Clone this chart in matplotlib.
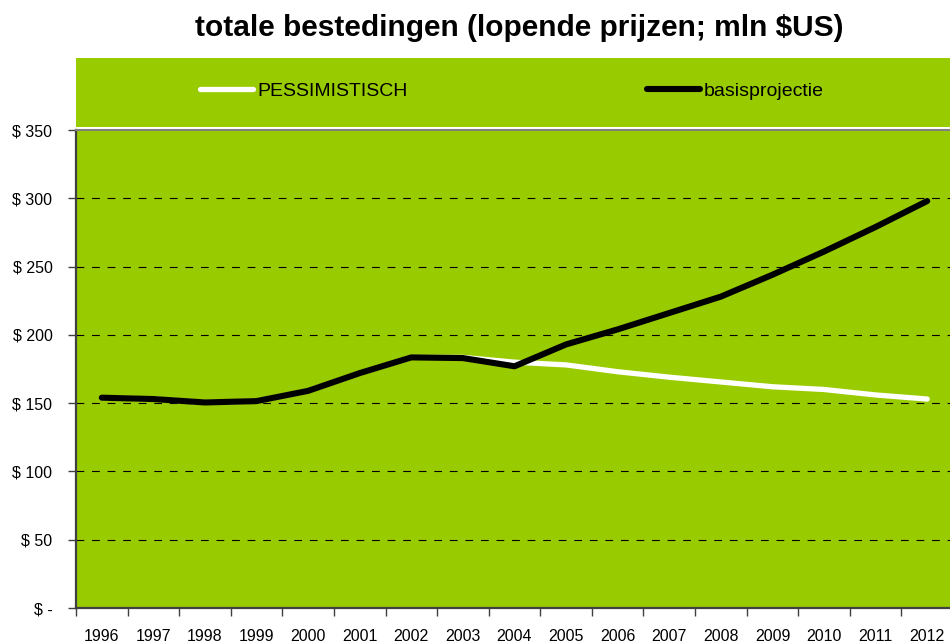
import numpy as np
import matplotlib
matplotlib.use('Agg')
import matplotlib.pyplot as plt
from matplotlib.patches import Rectangle

plt.rcParams['font.family'] = ['Liberation Sans', 'DejaVu Sans']

# data (mln $US)
years = [str(y) for y in range(1996, 2013)]
pessimistisch = [154, 153, 150.5, 151.5, 159, 172, 183.5, 183.5, 180, 178,
                 173, 169, 165.5, 162, 160, 156, 153]
basis = [154, 153, 150.5, 151.5, 159, 172, 183.5, 183, 177, 193,
         204, 216, 228, 244, 261, 279, 298]
yticks = [0, 50, 100, 150, 200, 250, 300, 350]
ytick_labels = ['$ -', '$ 50', '$ 100', '$ 150', '$ 200', '$ 250', '$ 300', '$ 350']

green = '#99CC00'
W, H = 950, 642

fig = plt.figure(figsize=(9.5, 6.42), dpi=100)

# green box behind legend + plot
fig.patches.append(Rectangle((76 / W, (H - 127) / H), (W - 76) / W, 69 / H,
                             transform=fig.transFigure, facecolor=green,
                             edgecolor='none', zorder=0))

ax = fig.add_axes([76 / W, (H - 608) / H, 877 / W, 478 / H])
ax.set_facecolor(green)

x = np.arange(len(years))
l1, = ax.plot(x, pessimistisch, color='white', lw=3.8, solid_capstyle='round',
              solid_joinstyle='round', zorder=3)
l2, = ax.plot(x, basis, color='black', lw=4.4, solid_capstyle='round',
              solid_joinstyle='round', zorder=4)

ax.set_xlim(-0.5, len(years) - 0.5)
ax.set_ylim(0, 350)

for v in yticks[1:-1]:
    ax.axhline(v, color='black', lw=0.8, dashes=(7, 7), zorder=1)

ax.set_yticks(yticks)
ax.set_yticklabels(ytick_labels)
ax.set_xticks(x)
ax.set_xticklabels(years)
ax.set_xticks(np.arange(-0.5, len(years)), minor=True)
ax.tick_params(axis='x', which='major', length=0, pad=15, labelsize=11.5)
ax.tick_params(axis='x', which='minor', length=6, width=1, color='#404040')
ax.tick_params(axis='y', length=6, width=1, color='#404040', pad=11, labelsize=11.5)

for s in ['left', 'bottom']:
    ax.spines[s].set_color('#404040')
    ax.spines[s].set_linewidth(1.6)
ax.spines['right'].set_visible(False)
ax.spines['top'].set_color('#808080')
ax.spines['top'].set_linewidth(1.5)

fig.legend([l1, l2], ['PESSIMISTISCH', 'basisprojectie'], ncol=2, loc='center',
           bbox_to_anchor=(512 / W, (H - 91) / H), frameon=False, fontsize=14,
           handlelength=2.75, handletextpad=0.2, columnspacing=12.3)

fig.text(519 / W, (H - 28) / H, 'totale bestedingen (lopende prijzen; mln $US)',
         ha='center', va='center', fontsize=21.5, fontweight='bold')

fig.savefig('out.png', dpi=100)
